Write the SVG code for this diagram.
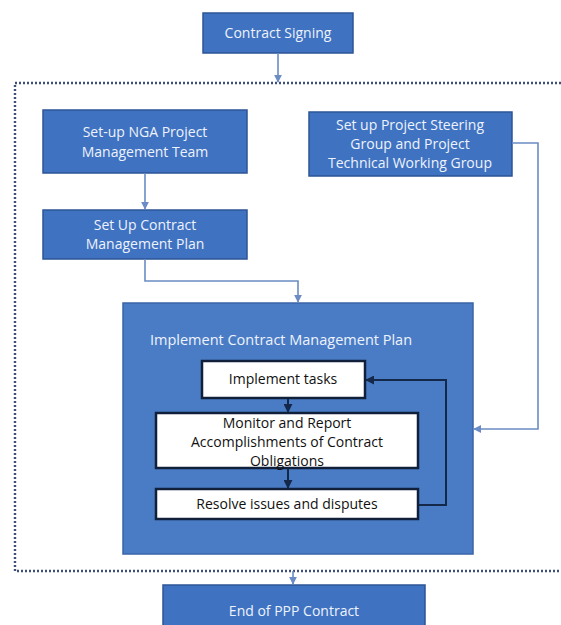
<svg xmlns="http://www.w3.org/2000/svg" width="561" height="625" viewBox="0 0 561 625">
  <defs>
    <style>
      .step { fill: #3f72c1; stroke: #2d5596; stroke-width: 1.5; }
      .stage { fill: #4a7cc6; stroke: #3a64a8; stroke-width: 1.5; }
      .task { fill: #ffffff; stroke: #10203a; stroke-width: 2.5; }
      .lbl { font-family: "Open Sans", "Liberation Sans", sans-serif; font-size: 14px; fill: #eef3fb; text-anchor: middle; }
      .lbl-dark { font-family: "Open Sans", "Liberation Sans", sans-serif; font-size: 14px; fill: #111111; text-anchor: middle; }
      .link { fill: none; stroke: #6b8cc4; stroke-width: 1.6; }
      .link-dark { fill: none; stroke: #14284a; stroke-width: 2; }
      .frame { fill: none; stroke: #3d4f78; stroke-width: 2.4; stroke-dasharray: 2 2; }
    </style>
    <marker id="arrow" viewBox="0 0 10 10" refX="9" refY="5" markerWidth="5" markerHeight="5" orient="auto">
      <path d="M0,0 L10,5 L0,10 z" fill="#6b8cc4"/>
    </marker>
    <marker id="arrow-dark" viewBox="0 0 10 10" refX="9" refY="5" markerWidth="4.5" markerHeight="4.5" orient="auto">
      <path d="M0,0 L10,5 L0,10 z" fill="#14284a"/>
    </marker>
  </defs>

  <rect width="561" height="625" fill="#ffffff"/>

  <!-- dotted boundary around the contract management phase -->
  <path class="frame" d="M561,83 L15,83 L15,571 L561,571"/>

  <g id="contract-signing">
    <rect class="step" x="203" y="13" width="150" height="40"/>
    <text class="lbl" x="278" y="38">Contract Signing</text>
  </g>

  <g id="nga-team">
    <rect class="step" x="43" y="110" width="204" height="63"/>
    <text class="lbl" x="145" y="137">Set-up NGA Project</text>
    <text class="lbl" x="145" y="157">Management Team</text>
  </g>

  <g id="cm-plan">
    <rect class="step" x="43" y="210" width="204" height="49"/>
    <text class="lbl" x="145" y="230">Set Up Contract</text>
    <text class="lbl" x="145" y="249">Management Plan</text>
  </g>

  <g id="steering-group">
    <rect class="step" x="309" y="112" width="203" height="64"/>
    <text class="lbl" x="410" y="130">Set up Project Steering</text>
    <text class="lbl" x="410" y="149">Group and Project</text>
    <text class="lbl" x="410" y="168">Technical Working Group</text>
  </g>

  <g id="implement-plan">
    <rect class="stage" x="123" y="303" width="350" height="251"/>
    <text class="lbl" x="281" y="345" style="font-size:14.5px">Implement Contract Management Plan</text>
  </g>

  <g id="implement-tasks">
    <rect class="task" x="202" y="361" width="163" height="37"/>
    <text class="lbl-dark" x="283" y="384">Implement tasks</text>
  </g>

  <g id="monitor-report">
    <rect class="task" x="156" y="413" width="262" height="55"/>
    <text class="lbl-dark" x="287" y="428">Monitor and Report</text>
    <text class="lbl-dark" x="287" y="447">Accomplishments of Contract</text>
    <text class="lbl-dark" x="287" y="466">Obligations</text>
  </g>

  <g id="resolve-issues">
    <rect class="task" x="156" y="489" width="262" height="30"/>
    <text class="lbl-dark" x="287" y="509">Resolve issues and disputes</text>
  </g>

  <g id="end-contract">
    <rect class="step" x="163" y="585" width="262" height="45"/>
    <text class="lbl" x="294" y="616">End of PPP Contract</text>
  </g>

  <g id="connectors">
    <path class="link" d="M278,53 L278,82" marker-end="url(#arrow)"/>
    <path class="link" d="M145,173 L145,209" marker-end="url(#arrow)"/>
    <path class="link" d="M145,259 L145,281 L298,281 L298,302" marker-end="url(#arrow)"/>
    <path class="link" d="M512,143 L538,143 L538,429 L474,429" marker-end="url(#arrow)"/>
    <path class="link" d="M293,571 L293,584" marker-end="url(#arrow)"/>
    <path class="link-dark" d="M288,399 L288,412" marker-end="url(#arrow-dark)"/>
    <path class="link-dark" d="M288,469 L288,488" marker-end="url(#arrow-dark)"/>
    <path class="link-dark" d="M419,505 L446,505 L446,380 L366,380" marker-end="url(#arrow-dark)"/>
  </g>
</svg>
